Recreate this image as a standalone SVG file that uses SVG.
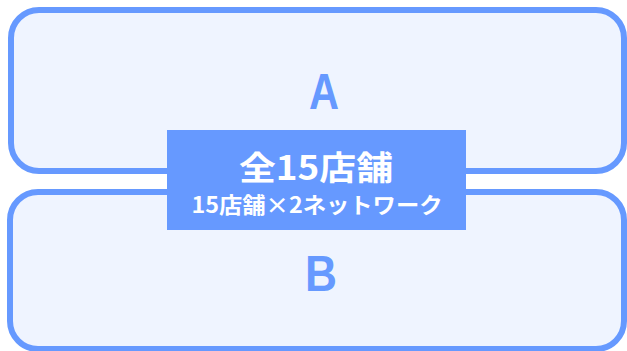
<svg xmlns="http://www.w3.org/2000/svg" width="627" height="351" viewBox="0 0 627 351">
  <style>
    .box { fill: #EFF4FF; stroke: #6699FF; stroke-width: 6; }
    .big { font-family: "Liberation Sans", "Noto Sans", sans-serif; font-weight: bold; font-size: 50px; fill: #6699FF; text-anchor: middle; }
    .hub { fill: #6699FF; }
    .t1 { font-family: "Noto Sans CJK JP", "Noto Sans", sans-serif; font-weight: bold; font-size: 33px; fill: #FFFFFF; text-anchor: middle; }
    .t2 { font-family: "Noto Sans CJK JP", "Noto Sans", sans-serif; font-weight: bold; font-size: 22px; fill: #FFFFFF; text-anchor: middle; }
  </style>
  <g id="node-a">
    <rect class="box" x="11" y="10" width="613" height="161" rx="28" ry="28"/>
    <text class="big" x="324" y="109" textLength="30" lengthAdjust="spacingAndGlyphs">A</text>
  </g>
  <g id="node-b">
    <rect class="box" x="10" y="192" width="614" height="157" rx="28" ry="28"/>
    <text class="big" x="321" y="291" textLength="32" lengthAdjust="spacingAndGlyphs">B</text>
  </g>
  <g id="connectors"></g>
  <g id="node-hub">
    <rect class="hub" x="167" y="130" width="299" height="100"/>
    <text class="t1" x="316" y="180" textLength="154" lengthAdjust="spacingAndGlyphs">全15店舗</text>
    <text class="t2" x="317" y="213" textLength="251" lengthAdjust="spacingAndGlyphs">15店舗×2ネットワーク</text>
  </g>
</svg>
